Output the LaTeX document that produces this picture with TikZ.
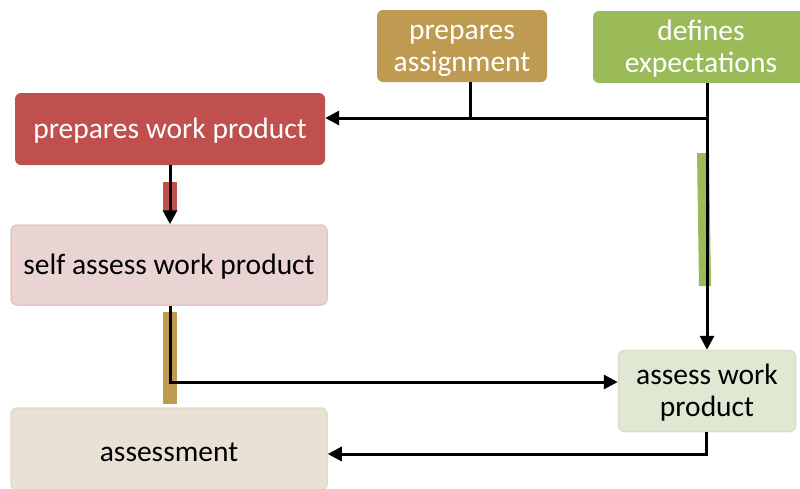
\documentclass[tikz,border=0pt]{standalone}
\usepackage{fontspec}
\setmainfont{Carlito}
\usetikzlibrary{arrows.meta,calc}
\definecolor{cred}{HTML}{C0504D}
\definecolor{cpink}{HTML}{EAD3D3}
\definecolor{cpinkb}{HTML}{E3C6C6}
\definecolor{cbeige}{HTML}{E9E1D3}
\definecolor{cbeigeb}{HTML}{E3DACA}
\definecolor{cgold}{HTML}{BF9B51}
\definecolor{cgreen}{HTML}{9BBB59}
\definecolor{cpgreen}{HTML}{E0E8D3}
\definecolor{cpgreenb}{HTML}{D6E0C6}
\newcommand{\topstrut}{\rule{0pt}{24.5pt}}
\tikzset{
  box/.style={rounded corners=6pt, align=center, inner sep=0pt,
    font=\fontsize{29.5}{32}\selectfont},
  dark/.style={box, text=white},
  light/.style={box, text=black, line width=1.5pt},
  conn/.style={line width=3pt, black},
  arr/.style={conn, -{Triangle[length=14pt,width=14pt]}},
}
\begin{document}
\begin{tikzpicture}[x=1pt,y=-1pt]
\useasboundingbox (0,0) rectangle (800,488);
% nodes
\node[dark, fill=cred, minimum width=310pt, minimum height=72pt] (pwp) at (170,129) {\topstrut prepares work product};
\node[light, fill=cpink, draw=cpinkb, minimum width=316pt, minimum height=80pt] (sawp) at (169,265) {\topstrut self assess work product};
\node[light, fill=cbeige, draw=cbeigeb, minimum width=316pt, minimum height=82pt] (asmt) at (169,449) {\topstrut assessment};
\node[dark, fill=cgold, minimum width=170pt, minimum height=72pt] (pa) at (462,46) {\topstrut prepares\\assignment};
\node[dark, fill=cgreen, minimum width=216pt, minimum height=72pt] (de) at (701,47) {\topstrut defines\\expectations};
\node[light, fill=cpgreen, draw=cpgreenb, minimum width=177pt, minimum height=81pt] (awp) at (707,391) {\topstrut assess work\\product};
% bars
\fill[cred] (163,182) rectangle (177,212);
\fill[cgold] (163,312) rectangle (177,404);
\fill[cgreen] (697,153) -- (709,153) -- (711,286) -- (699,286) -- cycle;
% junction coordinates
\coordinate (jde) at (707,118);
\coordinate (k) at (170,382);
\coordinate (m) at (706,454);
% connectors
\draw[conn] ([xshift=8pt]pa.south) -- ([xshift=8pt]pa.south |- jde);
\draw[arr] (jde) -- (pwp.east |- jde);
\draw[arr] (de.south -| awp.north) -- (awp.north);
\draw[arr] (pwp.south) -- (pwp.south |- sawp.north);
\draw[arr] (sawp.south -| k) -- (k) -- (awp.west |- k);
\draw[arr] (awp.south -| m) -- (m) -- (asmt.east |- m);
\end{tikzpicture}
\end{document}
